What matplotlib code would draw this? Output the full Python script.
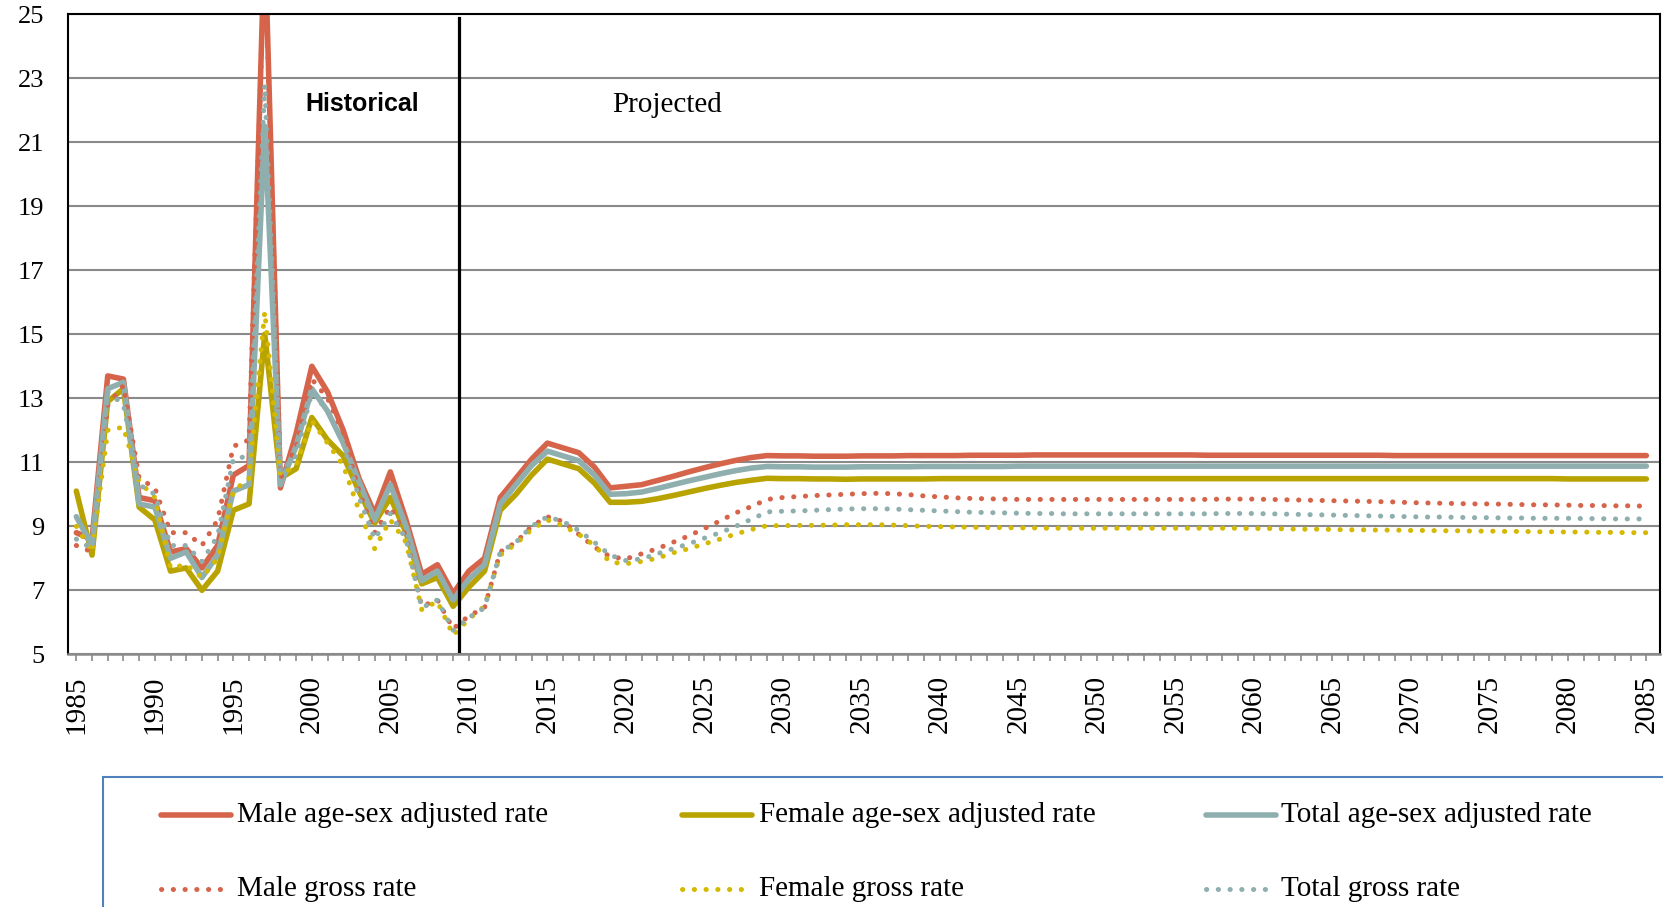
import numpy as np
import matplotlib
matplotlib.use("Agg")
import matplotlib.pyplot as plt
from matplotlib.lines import Line2D
from matplotlib.patches import Rectangle

years = np.arange(1985, 2086)

# rates per 1000, 1985..2085
m_adj = [8.8, 8.6, 13.7, 13.6, 9.9,        # 1985
         9.8, 8.2, 8.3, 7.7, 8.4,          # 1990
         10.6, 10.9, 27.5, 10.2, 11.9,     # 1995
         14.0, 13.2, 12.0, 10.5, 9.4,      # 2000
         10.7, 9.2, 7.5, 7.8, 6.9,         # 2005
         7.6, 8.0, 9.9, 10.5, 11.1,        # 2010
         11.6, 11.45, 11.3, 10.85, 10.2,   # 2015
         10.25, 10.3, 10.43, 10.56, 10.7,  # 2020
         10.83, 10.95, 11.06, 11.15, 11.21,  # 2025
         11.2, 11.2, 11.19, 11.19, 11.19,  # 2030
         11.2, 11.2, 11.2, 11.21, 11.21,   # 2035
         11.21, 11.21, 11.22, 11.22, 11.22,  # 2040
         11.22, 11.23, 11.23, 11.23, 11.23,  # 2045
         11.23, 11.23, 11.23, 11.23, 11.23,  # 2050
         11.23, 11.23, 11.22, 11.22, 11.22,  # 2055
         11.22, 11.22, 11.22, 11.22, 11.22,  # 2060
         11.22, 11.22, 11.22, 11.22, 11.21,  # 2065
         11.21, 11.21, 11.21, 11.21, 11.21,  # 2070
         11.21, 11.21, 11.21, 11.21, 11.21,  # 2075
         11.21, 11.21, 11.21, 11.21, 11.21,  # 2080
         11.21]

f_adj = [10.1, 8.1, 12.9, 13.3, 9.6,
         9.2, 7.6, 7.7, 7.0, 7.6,
         9.5, 9.7, 15.0, 10.5, 10.8,
         12.4, 11.7, 11.2, 10.1, 9.1,
         9.9, 8.8, 7.2, 7.4, 6.5,
         7.1, 7.6, 9.5, 10.0, 10.6,
         11.1, 10.95, 10.8, 10.35, 9.75,
         9.75, 9.78, 9.86, 9.96, 10.07,
         10.18, 10.28, 10.37, 10.44, 10.5,
         10.49, 10.49, 10.48, 10.48, 10.47,  # 2030
         10.48, 10.48, 10.48, 10.48, 10.48,  # 2035
         10.49, 10.49, 10.49, 10.49, 10.49,  # 2040
         10.49, 10.49, 10.49, 10.49, 10.49,  # 2045
         10.49, 10.49, 10.49, 10.49, 10.49,  # 2050
         10.49, 10.49, 10.49, 10.49, 10.49,  # 2055
         10.49, 10.49, 10.49, 10.49, 10.49,  # 2060
         10.49, 10.49, 10.49, 10.49, 10.49,  # 2065
         10.49, 10.49, 10.49, 10.49, 10.49,  # 2070
         10.49, 10.49, 10.49, 10.49, 10.49,  # 2075
         10.48, 10.48, 10.48, 10.48, 10.48,  # 2080
         10.48]

t_adj = [9.3, 8.4, 13.3, 13.5, 9.7,
         9.6, 8.0, 8.2, 7.4, 8.1,
         10.1, 10.3, 21.5, 10.3, 11.5,
         13.3, 12.6, 11.6, 10.4, 9.2,
         10.3, 9.0, 7.3, 7.6, 6.7,
         7.35, 7.8, 9.7, 10.3, 10.9,
         11.35, 11.2, 11.05, 10.6, 10.0,
         10.02, 10.07, 10.18, 10.3, 10.42,
         10.53, 10.64, 10.74, 10.82, 10.87,
         10.86, 10.86, 10.85, 10.85, 10.85,  # 2030
         10.86, 10.86, 10.86, 10.86, 10.87,  # 2035
         10.87, 10.87, 10.87, 10.87, 10.87,  # 2040
         10.88, 10.88, 10.88, 10.88, 10.88,  # 2045
         10.88, 10.88, 10.88, 10.88, 10.88,  # 2050
         10.88, 10.88, 10.88, 10.88, 10.88,  # 2055
         10.88, 10.88, 10.88, 10.88, 10.88,  # 2060
         10.88, 10.88, 10.88, 10.88, 10.88,  # 2065
         10.88, 10.88, 10.88, 10.88, 10.88,  # 2070
         10.88, 10.88, 10.88, 10.88, 10.88,  # 2075
         10.88, 10.88, 10.88, 10.88, 10.88,  # 2080
         10.88]

m_gross = [8.4, 8.2, 12.8, 13.4, 10.5,
           10.2, 8.8, 8.8, 8.4, 9.2,
           11.5, 11.7, 27.0, 10.5, 11.5,
           13.6, 13.0, 11.9, 10.1, 8.8,
           9.6, 8.7, 6.5, 6.7, 5.8,
           6.2, 6.45, 8.2, 8.5, 9.0,
           9.3, 9.15, 8.75, 8.35, 8.05,
           7.98, 8.14, 8.3, 8.5, 8.7,
           8.93, 9.17, 9.42, 9.62, 9.84,
           9.9, 9.93, 9.96, 9.98, 10.0,     # 2030
           10.02, 10.03, 10.02, 9.99, 9.95,  # 2035
           9.92, 9.89, 9.87, 9.86, 9.85,    # 2040
           9.84, 9.84, 9.84, 9.84, 9.84,    # 2045
           9.84, 9.84, 9.84, 9.84, 9.84,    # 2050
           9.84, 9.84, 9.84, 9.85, 9.85,    # 2055
           9.85, 9.84, 9.83, 9.82, 9.81,    # 2060
           9.8, 9.79, 9.78, 9.77, 9.76,     # 2065
           9.74, 9.73, 9.72, 9.71, 9.7,     # 2070
           9.7, 9.69, 9.68, 9.67, 9.67,     # 2075
           9.66, 9.65, 9.65, 9.64, 9.64,    # 2080
           9.63]

f_gross = [9.0, 8.2, 12.0, 12.1, 10.4,
           9.9, 7.7, 7.8, 7.4, 8.0,
           10.1, 10.5, 15.7, 10.6, 10.9,
           12.3, 11.6, 10.9, 9.5, 8.3,
           9.2, 8.5, 6.4, 6.65, 5.6,
           6.1, 6.5, 8.1, 8.45, 8.9,
           9.2, 9.02, 8.75, 8.4, 7.88,
           7.83, 7.9, 8.0, 8.17, 8.3,
           8.45, 8.6, 8.76, 8.9, 9.02,
           9.02, 9.03, 9.03, 9.04, 9.05,    # 2030
           9.05, 9.05, 9.04, 9.02, 9.0,     # 2035
           8.99, 8.98, 8.97, 8.96, 8.96,    # 2040
           8.95, 8.95, 8.94, 8.94, 8.94,    # 2045
           8.94, 8.94, 8.94, 8.94, 8.94,    # 2050
           8.94, 8.94, 8.94, 8.94, 8.94,    # 2055
           8.93, 8.93, 8.92, 8.91, 8.91,    # 2060
           8.9, 8.89, 8.89, 8.88, 8.88,     # 2065
           8.87, 8.87, 8.86, 8.86, 8.85,    # 2070
           8.85, 8.84, 8.84, 8.83, 8.83,    # 2075
           8.82, 8.82, 8.81, 8.81, 8.8,     # 2080
           8.8]

t_gross = [8.6, 8.3, 13.2, 12.8, 10.3,
           10.0, 8.4, 8.4, 7.9, 8.7,
           11.1, 11.2, 22.8, 10.7, 11.2,
           13.2, 12.6, 11.6, 9.9, 8.6,
           9.4, 8.6, 6.45, 6.7, 5.75,
           6.15, 6.45, 8.2, 8.5, 9.0,
           9.3, 9.15, 8.87, 8.5, 8.1,
           7.93, 7.98, 8.14, 8.3, 8.45,
           8.63, 8.8, 9.0, 9.22, 9.45,
           9.47, 9.48, 9.5, 9.52, 9.54,     # 2030
           9.55, 9.55, 9.54, 9.52, 9.5,     # 2035
           9.48, 9.46, 9.44, 9.43, 9.42,    # 2040
           9.41, 9.4, 9.4, 9.39, 9.39,      # 2045
           9.39, 9.39, 9.39, 9.39, 9.39,    # 2050
           9.39, 9.39, 9.39, 9.4, 9.4,      # 2055
           9.4, 9.39, 9.38, 9.37, 9.36,     # 2060
           9.35, 9.34, 9.33, 9.32, 9.31,    # 2065
           9.3, 9.29, 9.29, 9.28, 9.27,     # 2070
           9.27, 9.26, 9.26, 9.25, 9.25,    # 2075
           9.25, 9.24, 9.24, 9.23, 9.23,    # 2080
           9.23]

labels = ["Male age-sex adjusted rate", "Female age-sex adjusted rate",
          "Total age-sex adjusted rate", "Male gross rate",
          "Female gross rate", "Total gross rate"]

red = "#D6644A"
olive = "#B8A300"
yellow = "#D4B900"
teal = "#8FAFAF"

serif = ["Liberation Serif", "DejaVu Serif"]

fig = plt.figure(figsize=(16.63, 9.07), dpi=100)
ax = fig.add_axes([67.7 / 1663, 1 - 654.3 / 907, (1660 - 67.7) / 1663, 640 / 907])

solid_kw = dict(lw=4.0, solid_capstyle="round", solid_joinstyle="round")
dot_kw = dict(lw=3.6, linestyle=(0, (0.05, 2.3)), dash_capstyle="round")

ax.plot(years, m_adj, color=red, **solid_kw)
ax.plot(years, f_adj, color=olive, **solid_kw)
ax.plot(years, t_adj, color=teal, **solid_kw)
ax.plot(years, m_gross, color=red, **dot_kw)
ax.plot(years, f_gross, color=yellow, **dot_kw)
ax.plot(years, t_gross, color=teal, **dot_kw)

ax.axvline(2009.37, color="black", lw=2.3, ymax=0.995, ymin=0.005)

ax.set_xlim(1984.45, 2085.87)
ax.set_ylim(5, 25)
ax.set_yticks(np.arange(5, 26, 2))
ax.yaxis.grid(True, color="#8a8a8a", lw=1.5)
ax.set_axisbelow(True)
ax.tick_params(axis="y", length=0, pad=17)
for t in ax.get_yticklabels():
    t.set_fontfamily(serif)
    t.set_fontsize(19)

ax.set_xticks(years)
ax.set_xticklabels([str(y) if y % 5 == 0 else "" for y in years],
                   rotation=90, fontfamily=serif, fontsize=21)
ax.tick_params(axis="x", length=5, width=1.2, color="#8a8a8a", pad=10)

for s in ["left", "top", "right"]:
    ax.spines[s].set_color("black")
    ax.spines[s].set_linewidth(1.5)
ax.spines["bottom"].set_color("#8a8a8a")
ax.spines["bottom"].set_linewidth(1.8)

ax.text(362 / 1663, 1 - 104 / 907, "Historical", transform=fig.transFigure,
        ha="center", va="center", fontsize=18, fontweight="bold",
        fontfamily="Liberation Sans")
ax.text(667 / 1663, 1 - 105 / 907, "Projected", transform=fig.transFigure,
        ha="center", va="center", fontsize=21, fontfamily=serif)

# legend box, cut off by the figure edge like the source
fig.patches.append(Rectangle((103 / 1663, -0.05), 1.0, 1 - 777 / 907 + 0.05,
                             transform=fig.transFigure, fill=False,
                             edgecolor="#4F81BD", lw=1.5))

handles_x = [161, 682, 1206]
text_x = [237, 759, 1281]
rows_y = [815, 889]
colors = [red, olive, teal, red, yellow, teal]
for i, lab in enumerate(labels):
    col = i % 3
    row = i // 3
    y = 1 - rows_y[row] / 907
    x0 = handles_x[col] / 1663
    x1 = (handles_x[col] + 70) / 1663
    kw = solid_kw if row == 0 else dot_kw
    fig.add_artist(Line2D([x0, x1], [y, y], color=colors[i],
                          transform=fig.transFigure, **kw))
    fig.text(text_x[col] / 1663, y, lab, ha="left", va="center",
             fontsize=21, fontfamily=serif)

fig.savefig("out.png", dpi=100)
